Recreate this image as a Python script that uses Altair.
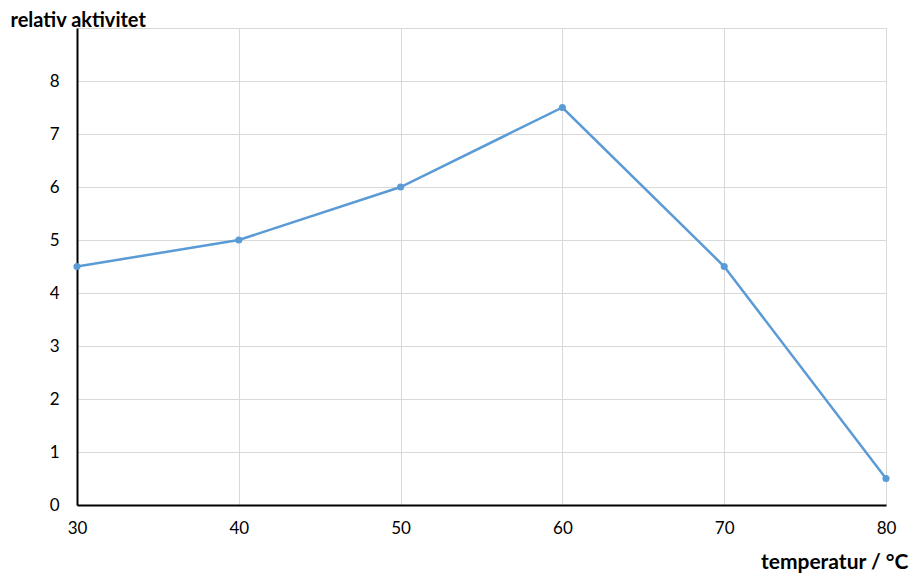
import altair as alt
import pandas as pd

temps = [30, 40, 50, 60, 70, 80]
activity = [4.5, 5.0, 6.0, 7.5, 4.5, 0.5]
x_ticks = [30, 40, 50, 60, 70, 80]
y_ticks = [0, 1, 2, 3, 4, 5, 6, 7, 8, 9]

df = pd.DataFrame({"temperatur": temps, "aktivitet": activity})

color = "#5B9BD5"
font = "Lato"

base = alt.Chart(df).encode(
    x=alt.X(
        "temperatur:Q",
        scale=alt.Scale(domain=[30, 80], nice=False, zero=False),
        axis=alt.Axis(
            values=x_ticks,
            title="temperatur / °C",
            titleAngle=0,
            titleAlign="right",
            titleAnchor=None,
            titleX=831,
            titleY=63,
            titleBaseline="alphabetic",
            titleFontSize=21,
            titleFontWeight="bold",
            titleFont=font,
            titleColor="#000000",
            labelFontSize=17,
            labelFont=font,
            labelColor="#000000",
            labelPadding=15,
            labelFlush=False,
            labelOverlap=False,
            ticks=False,
            domainColor="#000000",
            domainWidth=2,
            gridColor="#d9d9d9",
            gridWidth=1,
        ),
    ),
    y=alt.Y(
        "aktivitet:Q",
        scale=alt.Scale(domain=[0, 9], nice=False),
        axis=alt.Axis(
            values=y_ticks,
            labelExpr="datum.value == 9 ? '' : datum.label",
            title="relativ aktivitet",
            titleAngle=0,
            titleAlign="left",
            titleAnchor=None,
            titleX=-67,
            titleY=-2,
            titleBaseline="alphabetic",
            titleFontSize=20,
            titleFontWeight="bold",
            titleFont=font,
            titleColor="#000000",
            labelFontSize=17,
            labelFont=font,
            labelColor="#000000",
            labelPadding=18,
            labelFlush=False,
            ticks=False,
            domainColor="#000000",
            domainWidth=2,
            gridColor="#d9d9d9",
            gridWidth=1,
        ),
    ),
)

line = base.mark_line(color=color, strokeWidth=2.5)
points = base.mark_circle(color=color, size=50, opacity=1)

chart = (
    (line + points)
    .properties(
        width=809,
        height=477,
        autosize=alt.AutoSizeParams(type="none"),
        padding={"left": 69, "top": 20, "right": 27, "bottom": 74},
    )
    .configure_view(stroke=None)
    .configure(background="white")
)

chart.save("out.html", embed_options={"renderer": "svg", "actions": False})
